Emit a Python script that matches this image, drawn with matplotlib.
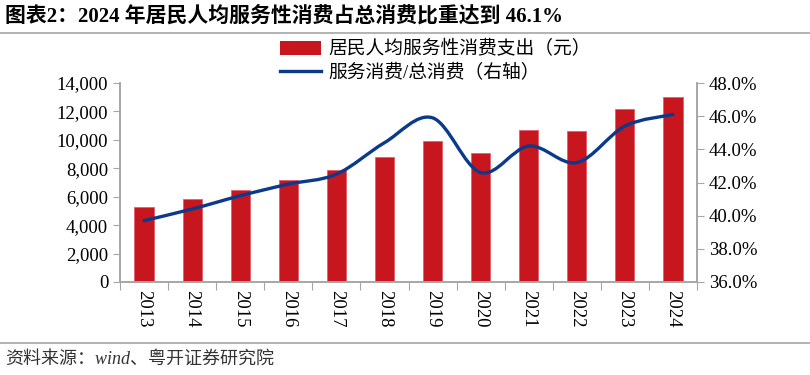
import numpy as np
import matplotlib.pyplot as plt
from matplotlib.path import Path
from matplotlib.patches import PathPatch, Patch
from matplotlib.lines import Line2D
from matplotlib.ticker import FuncFormatter

plt.rcParams['font.family'] = ['Liberation Serif', 'Noto Sans CJK SC']

# Data
years = ['2013', '2014', '2015', '2016', '2017', '2018',
         '2019', '2020', '2021', '2022', '2023', '2024']
service_spend = [5246, 5842, 6478, 7185, 7850, 8812,
                 9922, 9073, 10700, 10630, 12185, 13016]
service_share = [39.7, 40.4, 41.2, 41.9, 42.5, 44.4,
                 45.9, 42.6, 44.2, 43.2, 45.4, 46.1]

bar_color = '#C8161E'
line_color = '#0B3A8C'
grey = '#A6A6A6'

fig = plt.figure(figsize=(8.1, 3.75), dpi=100)
ax = fig.add_axes([120 / 810, 1 - 282 / 375, (697 - 120) / 810, (282 - 83) / 375])
ax2 = ax.twinx()

x = np.arange(len(years))
ax.bar(x, service_spend, width=0.4, color=bar_color, edgecolor='#E06070', linewidth=0.6, zorder=2)

# smoothed line (Catmull-Rom style, drawn as cubic Bezier segments)
pts = np.column_stack([x, service_share]).astype(float)
ext = np.vstack([pts[0], pts, pts[-1]])
verts = [tuple(pts[0])]
codes = [Path.MOVETO]
for i in range(len(pts) - 1):
    p0, p1, p2, p3 = ext[i], ext[i + 1], ext[i + 2], ext[i + 3]
    c1 = p1 + (p2 - p0) / 6
    c2 = p2 - (p3 - p1) / 6
    verts += [tuple(c1), tuple(c2), tuple(p2)]
    codes += [Path.CURVE4] * 3
ax2.add_patch(PathPatch(Path(verts, codes), facecolor='none', edgecolor=line_color,
                        linewidth=2.4, capstyle='round', zorder=3))

ax.set_xlim(-0.5, len(years) - 0.5)
ax.set_ylim(0, 14000)
ax.set_yticks(np.arange(0, 14001, 2000))
ax.yaxis.set_major_formatter(FuncFormatter(lambda v, p: f'{int(v):,}'))
ax2.set_ylim(36, 48)
ax2.set_yticks(np.arange(36, 48.1, 2))
ax2.yaxis.set_major_formatter(FuncFormatter(lambda v, p: f'{v:.1f}%'))

ax.set_xticks(np.arange(-0.5, len(years), 1))
ax.set_xticklabels([])
ax.set_xticks(x, minor=True)
ax.set_xticklabels(years, minor=True, rotation=270, fontsize=13.5)
ax.tick_params(axis='x', which='minor', length=0, pad=6)
ax.tick_params(axis='x', which='major', length=6, color=grey, direction='out')
ax.tick_params(axis='y', labelsize=13.5, color=grey, length=5)
ax2.tick_params(axis='y', labelsize=13.5, color=grey, length=5)

for a in (ax, ax2):
    a.spines['top'].set_visible(False)
    for s in ('left', 'right', 'bottom'):
        a.spines[s].set_color(grey)
        a.spines[s].set_linewidth(1.2)

handles = [Patch(facecolor=bar_color, edgecolor='none'),
           Line2D([0], [0], color=line_color, linewidth=2.4)]
labels = ['居民人均服务性消费支出（元）', '服务消费/总消费（右轴）']
fig.legend(handles, labels, loc='upper left', bbox_to_anchor=(272 / 810, 1 - 33 / 375),
           frameon=False, fontsize=13.5, handlelength=2.2, handleheight=0.8,
           labelspacing=0.3, handletextpad=0.4, borderaxespad=0)

fig.text(5 / 810, 1 - 16 / 375, '图表2：2024 年居民人均服务性消费占总消费比重达到 46.1%',
         fontsize=15, fontweight='bold', va='center', ha='left')
fig.add_artist(Line2D([0, 1], [1 - 33 / 375, 1 - 33 / 375], color=grey, linewidth=1.2))
fig.add_artist(Line2D([0, 1], [1 - 343 / 375, 1 - 343 / 375], color=grey, linewidth=1.2))
fig.text(5 / 810, 1 - 359 / 375, '资料来源：wind、粤开证券研究院',
         fontsize=13, style='italic', va='center', ha='left', color='#333333')

fig.savefig('out.png', dpi=100)
